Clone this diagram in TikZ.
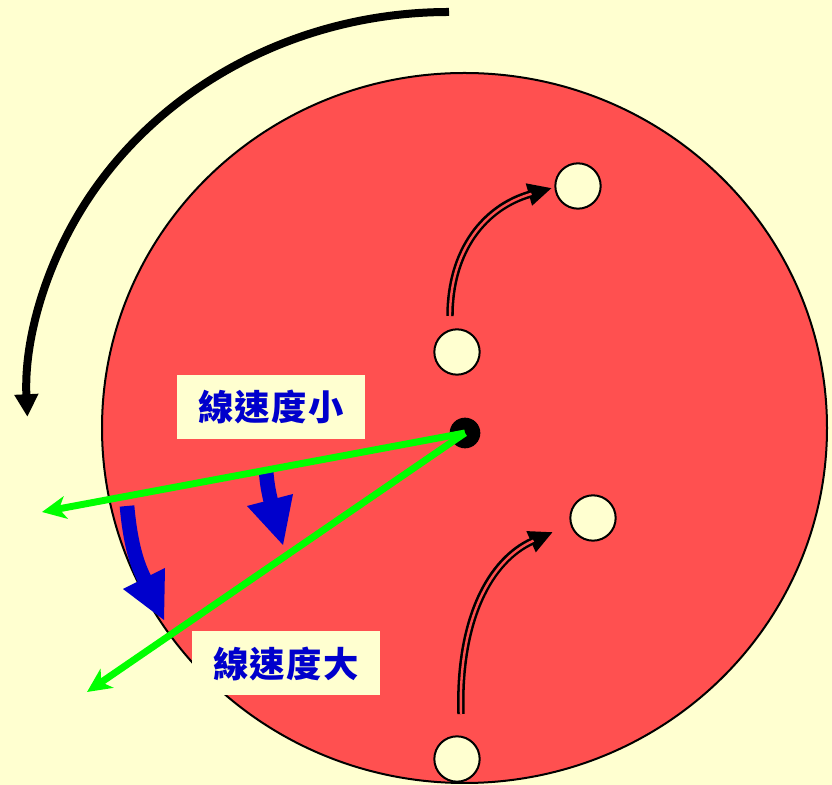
\documentclass[tikz,border=0pt]{standalone}
\usepackage{fontspec}
\newfontfamily\cjk{Noto Sans CJK TC}
\usetikzlibrary{arrows.meta}
\definecolor{bgyellow}{RGB}{255,255,208}
\definecolor{disk}{RGB}{255,80,80}
\definecolor{lblue}{RGB}{0,0,204}
\definecolor{lgreen}{RGB}{0,255,0}
\tikzset{
  hole/.style={circle,draw=black,line width=1.5pt,fill=bgyellow,minimum size=34pt,inner sep=0pt},
  labelbox/.style={fill=bgyellow,minimum width=141pt,minimum height=48pt,inner sep=0pt,
     font=\cjk\bfseries\fontsize{26.5}{26.5}\selectfont,text=lblue},
  greenarrow/.style={draw=lgreen,line width=5.2pt,-{Stealth[length=18pt,width=17pt,inset=5pt]}},
  dblout/.style={draw=black,line width=5.6pt,-{Triangle[length=18pt,width=16pt]}},
  dblin/.style={draw=disk,line width=1.8pt,shorten >=16pt},
  bluearrowshaft/.style={draw=lblue,line width=11pt},
  bluehead/.style={fill=lblue}
}
\begin{document}
\begin{tikzpicture}[x=0.75pt,y=0.75pt]
\useasboundingbox (0,0) rectangle (832,785);
\fill[bgyellow] (0,0) rectangle (832,785);
% rotation arrow
\draw[line width=6pt,-{Triangle[length=17pt,width=17pt]}] (449,773) arc[start angle=90,end angle=182.5,x radius=422,y radius=388];
% disk
\draw[fill=disk,line width=1.5pt] (464.5,357) ellipse[x radius=362.5,y radius=355];
% holes
\node[hole] (h1) at (578,599) {};
\node[hole] (h2) at (457,433) {};
\node[hole] (h3) at (593,267) {};
\node[hole] (h4) at (457,26) {};
% double arrows
\coordinate (s1) at (450,469);
\coordinate (e1) at (552,597);
\coordinate (s2) at (461,71);
\coordinate (e2) at (553,253);
\draw[dblout] (s1) .. controls (450,535) and (485,578) .. (e1);
\draw[dblin] (s1) .. controls (450,535) and (485,578) .. (e1);
\draw[dblout] (s2) .. controls (458,165) and (490,225) .. (e2);
\draw[dblin] (s2) .. controls (458,165) and (490,225) .. (e2);
% labels
\node[labelbox] (l1) at (271,378) {線\kern1pt 速\kern1pt 度\kern1pt 小};
\node[labelbox] (l2) at (286,121.5) {線\kern1pt 速\kern1pt 度\kern1pt 大};
% blue arrows
\draw[bluearrowshaft] (266,315) .. controls (267,300) and (269,292) .. (271,283);
\fill[bluehead] (247,279) -- (293,291) -- (283,240) -- cycle;
\draw[bluearrowshaft] (127,279) .. controls (130,245) and (136,222) .. (145,205);
\fill[bluehead] (123,196) -- (165,217) -- (164,165) -- cycle;
% center dot
\node[circle,fill=black,minimum size=23pt,inner sep=0pt] (c) at (465,352) {};
% green arrows
\coordinate (g1) at (42,273);
\coordinate (g2) at (87,93);
\draw[greenarrow] (c.center) -- (g1);
\draw[greenarrow] (c.center) -- (g2);
\end{tikzpicture}
\end{document}
